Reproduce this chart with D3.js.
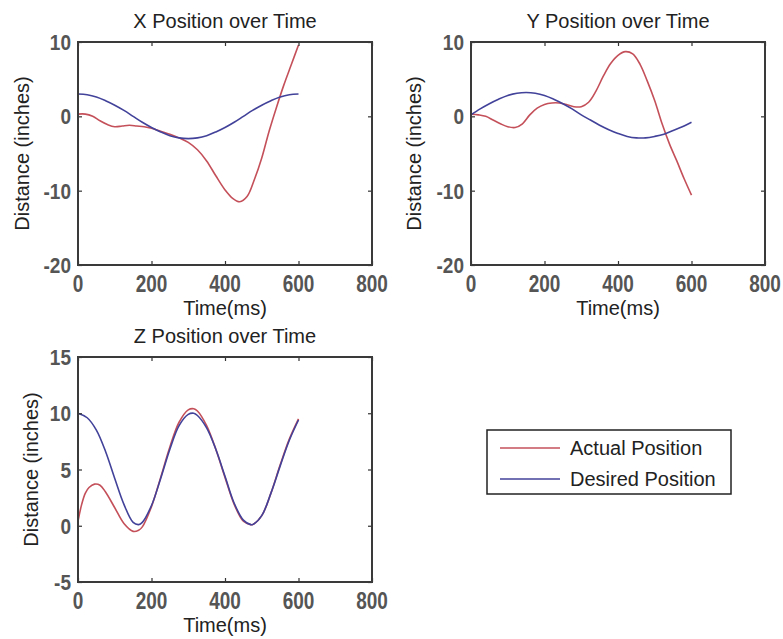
<!DOCTYPE html>
<html>
<head>
<meta charset="utf-8">
<script src="https://cdn.jsdelivr.net/npm/d3@7"></script>
<style>
  body { margin: 0; background: #fff; }
  svg { display: block; font-family: "Liberation Sans", Arial, sans-serif; }
</style>
</head>
<body>
<svg id="chart" width="783" height="639"></svg>
<script>
// ---- data ----
const xTicks = [0, 200, 400, 600, 800];

const xActualT = [0, 20, 40, 60, 80, 100, 120, 140, 160, 180, 200, 225, 250, 275, 300, 325, 350, 375, 400, 420, 440, 460, 480, 500, 520, 540, 560, 580, 600];
const xActual  = [0.3, 0.3, 0.0, -0.6, -1.1, -1.4, -1.3, -1.2, -1.3, -1.4, -1.6, -2.0, -2.4, -2.9, -3.5, -4.5, -6.0, -8.0, -9.9, -11.0, -11.5, -10.8, -8.5, -5.6, -2.0, 1.2, 4.2, 6.9, 9.6];
const xDesiredT = [0, 25, 50, 75, 100, 125, 150, 175, 200, 225, 250, 275, 300, 325, 350, 375, 400, 425, 450, 475, 500, 525, 550, 575, 600];
const xDesired  = [3.0, 2.9, 2.6, 2.1, 1.5, 0.8, 0.0, -0.8, -1.5, -2.1, -2.6, -2.9, -3.0, -2.9, -2.6, -2.1, -1.5, -0.8, 0.0, 0.8, 1.5, 2.1, 2.6, 2.9, 3.0];

const yActualT = [0, 20, 40, 60, 80, 100, 120, 140, 160, 180, 200, 220, 240, 260, 280, 300, 320, 340, 360, 380, 400, 420, 440, 460, 480, 500, 520, 540, 560, 580, 600];
const yActual  = [0.3, 0.2, 0.0, -0.5, -1.0, -1.4, -1.5, -1.0, 0.2, 1.1, 1.6, 1.8, 1.8, 1.6, 1.3, 1.3, 1.9, 3.4, 5.4, 7.1, 8.2, 8.7, 8.4, 7.0, 4.7, 2.1, -1.0, -3.7, -6.0, -8.4, -10.6];
const yDesiredT = [0, 25, 50, 75, 100, 125, 150, 175, 200, 225, 250, 275, 300, 325, 350, 375, 400, 425, 450, 475, 500, 525, 550, 575, 600];
const yDesired  = [0.2, 1.0, 1.7, 2.3, 2.8, 3.1, 3.2, 3.1, 2.8, 2.3, 1.7, 1.0, 0.2, -0.5, -1.2, -1.8, -2.3, -2.7, -2.9, -2.9, -2.7, -2.4, -1.9, -1.4, -0.8];

const zActualT = [0, 10, 20, 30, 45, 60, 75, 100, 125, 150, 165, 175, 200, 225, 250, 275, 300, 315, 325, 350, 375, 400, 425, 450, 470, 475, 500, 525, 550, 575, 600];
const zActual  = [0.4, 1.9, 2.9, 3.4, 3.7, 3.6, 3.0, 1.6, 0.2, -0.5, -0.4, -0.1, 1.7, 4.3, 7.0, 9.2, 10.3, 10.4, 10.2, 8.9, 6.8, 4.3, 1.9, 0.4, 0.1, 0.1, 0.9, 2.9, 5.4, 7.7, 9.5];
const zDesiredT = [0, 25, 50, 75, 100, 125, 150, 165, 175, 200, 225, 250, 275, 300, 315, 325, 350, 375, 400, 425, 450, 470, 475, 500, 525, 550, 575, 600];
const zDesired  = [10.0, 9.6, 8.5, 6.6, 4.2, 1.9, 0.3, 0.1, 0.3, 1.8, 4.2, 6.8, 8.9, 9.9, 10.0, 9.8, 8.7, 6.8, 4.4, 2.0, 0.5, 0.1, 0.1, 0.9, 2.9, 5.3, 7.6, 9.4];

const legendLabels = ["Actual Position", "Desired Position"];
const lineColors = ["#c4505a", "#42429a"];

const panels = [
  { title: "X Position over Time", box: [78, 42, 372, 265], yDomain: [-20, 10], yTicks: [-20, -10, 0, 10],
    series: [[xActualT, xActual], [xDesiredT, xDesired]], ylabelX: 29 },
  { title: "Y Position over Time", box: [471, 42, 765, 265], yDomain: [-20, 10], yTicks: [-20, -10, 0, 10],
    series: [[yActualT, yActual], [yDesiredT, yDesired]], ylabelX: 421 },
  { title: "Z Position over Time", box: [78, 357, 372, 582], yDomain: [-5, 15], yTicks: [-5, 0, 5, 10, 15],
    series: [[zActualT, zActual], [zDesiredT, zDesired]], ylabelX: 38 }
];

const svg = d3.select("#chart");

function drawPanel(p) {
  const [x0, y0, x1, y1] = p.box;
  const xScale = d3.scaleLinear().domain([0, 800]).range([x0, x1]);
  const yScale = d3.scaleLinear().domain(p.yDomain).range([y1, y0]);
  const g = svg.append("g");

  // lines
  const line = d3.line().x(d => xScale(d[0])).y(d => yScale(d[1])).curve(d3.curveCatmullRom);
  p.series.forEach((s, i) => {
    const pts = s[0].map((t, k) => [t, s[1][k]]);
    g.append("path")
      .attr("d", line(pts))
      .attr("fill", "none")
      .attr("stroke", lineColors[i])
      .attr("stroke-width", 1.6);
  });

  // inward ticks, all four sides
  const tl = 4;
  g.append("g").attr("transform", `translate(0,${y1})`)
    .call(d3.axisBottom(xScale).tickValues(xTicks).tickSize(-tl).tickFormat(""));
  g.append("g").attr("transform", `translate(0,${y0})`)
    .call(d3.axisTop(xScale).tickValues(xTicks).tickSize(-tl).tickFormat(""));
  g.append("g").attr("transform", `translate(${x0},0)`)
    .call(d3.axisLeft(yScale).tickValues(p.yTicks).tickSize(-tl).tickFormat(""));
  g.append("g").attr("transform", `translate(${x1},0)`)
    .call(d3.axisRight(yScale).tickValues(p.yTicks).tickSize(-tl).tickFormat(""));
  g.selectAll(".domain").remove();
  g.selectAll(".tick line").attr("stroke", "#333").attr("stroke-width", 1.2);

  // frame
  g.append("rect")
    .attr("x", x0).attr("y", y0)
    .attr("width", x1 - x0).attr("height", y1 - y0)
    .attr("fill", "none")
    .attr("stroke", "#3a3a3a")
    .attr("stroke-width", 2);

  // tick labels (the source font is tall and narrow)
  g.selectAll("text.xt").data(xTicks).join("text")
    .attr("class", "xt")
    .attr("transform", d => `translate(${xScale(d)},${y1 + 27}) scale(1,1.25)`)
    .attr("text-anchor", "middle")
    .attr("font-size", 19)
    .attr("font-weight", "bold")
    .attr("fill", "#555")
    .text(d => d);
  g.selectAll("text.yt").data(p.yTicks).join("text")
    .attr("class", "yt")
    .attr("transform", d => `translate(${x0 - 7},${yScale(d) + 8}) scale(1,1.15)`)
    .attr("text-anchor", "end")
    .attr("font-size", 19)
    .attr("font-weight", "bold")
    .attr("fill", "#555")
    .text(d => d);

  // title and axis labels
  g.append("text")
    .attr("x", (x0 + x1) / 2).attr("y", y0 - 14)
    .attr("text-anchor", "middle").attr("font-size", 20).attr("fill", "#222")
    .text(p.title);
  g.append("text")
    .attr("x", (x0 + x1) / 2).attr("y", y1 + 50)
    .attr("text-anchor", "middle").attr("font-size", 20).attr("fill", "#222")
    .text("Time(ms)");
  g.append("text")
    .attr("transform", `translate(${p.ylabelX},${(y0 + y1) / 2}) rotate(-90)`)
    .attr("text-anchor", "middle").attr("font-size", 20).attr("fill", "#222")
    .text("Distance (inches)");
}

panels.forEach(drawPanel);

// legend
const lg = svg.append("g");
lg.append("rect")
  .attr("x", 487).attr("y", 430).attr("width", 244).attr("height", 64)
  .attr("fill", "#fff").attr("stroke", "#222").attr("stroke-width", 1.5);
legendLabels.forEach((lab, i) => {
  const y = 448 + i * 31;
  lg.append("line").attr("x1", 500).attr("x2", 560).attr("y1", y).attr("y2", y)
    .attr("stroke", lineColors[i]).attr("stroke-width", 1.6);
  lg.append("text").attr("x", 570).attr("y", y + 7)
    .attr("font-size", 20).attr("fill", "#222").text(lab);
});
</script>
</body>
</html>
